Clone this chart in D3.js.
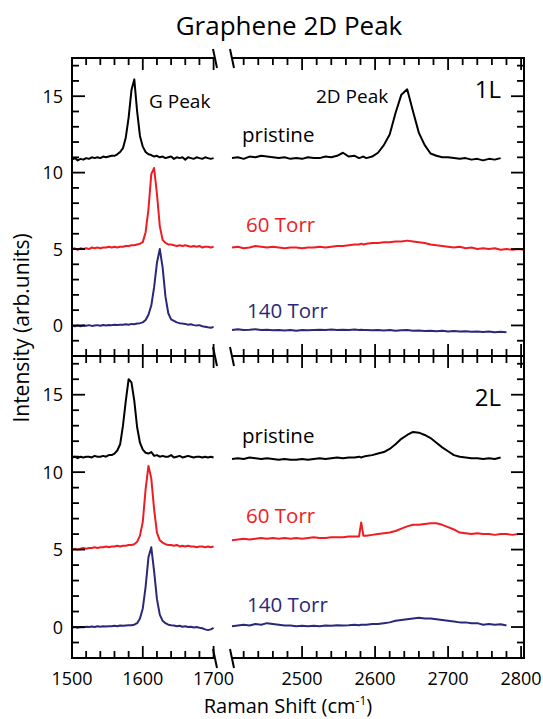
<!DOCTYPE html>
<html>
<head>
<meta charset="utf-8">
<script src="https://cdn.jsdelivr.net/npm/d3@7"></script>
<style>
  body { margin: 0; background: #fff; }
  svg text { font-family: "Open Sans", sans-serif; }
</style>
</head>
<body>
<script>
// Raman shift sample points (cm-1): G peak window and 2D peak window
var shiftG = [
  1500, 1504, 1508, 1512, 1516, 1520, 1524, 1528, 1532, 1536,
  1540, 1544, 1548, 1552, 1556, 1560, 1564, 1568, 1572, 1576,
  1580, 1584, 1588, 1592, 1596, 1600, 1604, 1608, 1612, 1616,
  1620, 1624, 1628, 1632, 1636, 1640, 1644, 1648, 1652, 1656,
  1660, 1664, 1668, 1672, 1676, 1680, 1684, 1688, 1692, 1696,
  1700]
var shift2D = [
  2404, 2412, 2420, 2428, 2436, 2444, 2452, 2460, 2468, 2476,
  2484, 2492, 2500, 2508, 2516, 2524, 2532, 2540, 2548, 2556,
  2564, 2572, 2578, 2581, 2584, 2588, 2596, 2604, 2612, 2620,
  2628, 2636, 2644, 2652, 2660, 2668, 2676, 2684, 2692, 2700,
  2708, 2716, 2724, 2732, 2740, 2748, 2756, 2764, 2772, 2780,
  2788, 2796, 2804]

// intensities (arb. units, offset as plotted) - single layer
var gPristine1L = [
  10.85, 10.95, 10.8, 10.9, 10.85, 10.95, 10.9, 11.0, 10.95, 11.0,
  10.95, 11.05, 11.0, 11.05, 11.1, 11.1, 11.2, 11.35, 11.6, 12.3,
  13.6, 15.4, 16.1, 14.0, 12.4, 11.7, 11.35, 11.2, 11.15, 11.05,
  11.1, 11.0, 11.05, 10.95, 11.0, 11.05, 10.9, 11.0, 10.95, 11.0,
  10.85, 11.0, 10.95, 10.9, 11.0, 10.95, 10.9, 11.0, 10.95, 10.9,
  10.95]
var g60Torr1L = [
  5.0, 5.05, 4.95, 5.05, 5.0, 5.05, 5.0, 5.1, 5.05, 5.1,
  5.05, 5.1, 5.1, 5.15, 5.1, 5.15, 5.1, 5.15, 5.15, 5.2,
  5.2, 5.25, 5.25, 5.3, 5.35, 5.45, 6.1, 7.6, 9.9, 10.3,
  8.6, 6.5, 5.6, 5.4, 5.3, 5.3, 5.25, 5.2, 5.25, 5.2,
  5.25, 5.2, 5.15, 5.2, 5.15, 5.2, 5.1, 5.15, 5.15, 5.1,
  5.15]
var g140Torr1L = [
  0.0, -0.05, 0.0, -0.05, 0.0, -0.02, 0.02, -0.03, 0.0, 0.02,
  -0.02, 0.03, 0.0, 0.03, 0.02, 0.05, 0.03, 0.05, 0.05, 0.08,
  0.05, 0.1, 0.08, 0.12, 0.15, 0.2, 0.35, 0.7, 1.3, 2.5,
  4.1, 5.0, 3.8, 1.9, 0.8, 0.4, 0.3, 0.2, 0.15, 0.12,
  0.1, 0.05, 0.08, 0.02, 0.0, 0.02, -0.05, -0.08, -0.12, -0.15,
  -0.1]
var dPristine1L = [
  10.95, 11.0, 10.9, 11.05, 11.0, 11.1, 11.05, 11.0, 10.95, 11.0,
  10.9, 10.95, 10.9, 11.0, 10.95, 10.95, 11.05, 11.0, 11.1, 11.3,
  11.05, 11.1, 10.95, 11.0, 11.05, 10.95, 11.05, 11.3, 11.8, 12.5,
  13.9, 15.1, 15.45, 14.0, 12.6, 11.8, 11.25, 11.1, 11.0, 11.0,
  10.95, 10.9, 10.95, 10.85, 10.9, 10.8, 10.9, 10.85, 10.95, null,
  null, null, null]
var d60Torr1L = [
  5.1, 5.15, 5.05, 5.1, 5.2, 5.15, 5.1, 5.15, 5.1, 5.05,
  5.1, 5.1, 5.05, 5.1, 5.1, 5.15, 5.1, 5.15, 5.2, 5.2,
  5.25, 5.3, 5.3, 5.35, 5.3, 5.35, 5.4, 5.4, 5.45, 5.45,
  5.5, 5.5, 5.55, 5.5, 5.45, 5.4, 5.3, 5.25, 5.2, 5.15,
  5.1, 5.15, 5.05, 5.1, 5.0, 5.05, 5.0, 5.05, 4.95, 5.0,
  4.95, 5.0, 4.95]
var d140Torr1L = [
  -0.3, -0.25, -0.3, -0.28, -0.25, -0.3, -0.28, -0.32, -0.3, -0.33,
  -0.3, -0.35, -0.3, -0.32, -0.3, -0.28, -0.3, -0.27, -0.3, -0.28,
  -0.3, -0.27, -0.3, -0.28, -0.3, -0.3, -0.32, -0.3, -0.33, -0.3,
  -0.35, -0.32, -0.3, -0.35, -0.33, -0.36, -0.35, -0.38, -0.35, -0.4,
  -0.37, -0.4, -0.38, -0.42, -0.4, -0.43, -0.4, -0.45, -0.42, -0.45,
  null, null, null]

// bilayer
var gPristine2L = [
  10.95, 11.0, 10.9, 11.0, 10.95, 11.0, 11.0, 10.95, 11.05, 11.0,
  11.0, 11.05, 11.0, 11.1, 11.1, 11.2, 11.4, 11.8, 13.0, 14.6,
  16.0, 15.8, 14.6, 12.9, 11.9, 11.45, 11.25, 11.2, 11.3, 11.05,
  11.1, 11.0, 11.05, 11.0, 11.0, 11.1, 10.95, 11.0, 11.05, 10.95,
  11.0, 11.05, 11.0, 10.95, 11.0, 11.0, 10.95, 11.0, 10.95, 11.0,
  10.95]
var g60Torr2L = [
  5.0, 5.05, 5.0, 5.05, 5.1, 5.05, 5.1, 5.1, 5.15, 5.1,
  5.15, 5.15, 5.2, 5.15, 5.2, 5.2, 5.25, 5.2, 5.25, 5.25,
  5.3, 5.3, 5.35, 5.5, 5.9, 6.8, 8.9, 10.4, 9.6, 7.6,
  6.1, 5.6, 5.45, 5.35, 5.3, 5.3, 5.25, 5.3, 5.2, 5.25,
  5.2, 5.25, 5.2, 5.2, 5.15, 5.2, 5.2, 5.15, 5.2, 5.15,
  5.2]
var g140Torr2L = [
  -0.05, 0.0, -0.05, 0.0, -0.02, 0.02, 0.0, 0.03, 0.0, 0.05,
  0.02, 0.05, 0.03, 0.05, 0.05, 0.08, 0.05, 0.1, 0.08, 0.1,
  0.12, 0.12, 0.15, 0.25, 0.55, 1.2, 2.6, 4.5, 5.15, 3.6,
  1.8, 0.8, 0.4, 0.25, 0.15, 0.12, 0.1, 0.05, 0.08, 0.02,
  0.05, 0.0, 0.02, -0.03, 0.0, -0.05, -0.08, -0.15, -0.2, -0.15,
  -0.05]
var dPristine2L = [
  10.85, 10.9, 10.85, 10.95, 10.9, 10.85, 10.9, 10.85, 10.8, 10.85,
  10.8, 10.8, 10.85, 10.8, 10.85, 10.9, 10.85, 10.9, 10.95, 10.9,
  10.95, 10.95, 11.0, 10.95, 11.0, 11.05, 11.1, 11.2, 11.3, 11.5,
  11.8, 12.15, 12.4, 12.6, 12.55, 12.4, 12.2, 11.9, 11.6, 11.35,
  11.1, 11.0, 10.95, 10.9, 10.9, 10.85, 10.9, 10.85, 10.95, null,
  null, null, null]
var d60Torr2L = [
  5.6, 5.65, 5.7, 5.65, 5.7, 5.75, 5.7, 5.75, 5.7, 5.75,
  5.7, 5.75, 5.7, 5.75, 5.8, 5.75, 5.75, 5.8, 5.8, 5.8,
  5.85, 5.85, 5.85, 6.75, 5.9, 5.9, 5.95, 6.0, 6.05, 6.1,
  6.2, 6.35, 6.5, 6.6, 6.6, 6.65, 6.7, 6.7, 6.6, 6.45,
  6.3, 6.1, 6.05, 6.0, 6.05, 6.0, 6.0, 5.95, 6.0, 6.0,
  5.95, 6.0, 6.0]
var d140Torr2L = [
  0.05, 0.1, 0.15, 0.1, 0.2, 0.15, 0.25, 0.2, 0.15, 0.1,
  0.1, 0.05, 0.08, 0.05, 0.08, 0.05, 0.1, 0.08, 0.12, 0.1,
  0.12, 0.15, 0.12, 0.15, 0.15, 0.15, 0.2, 0.2, 0.25, 0.3,
  0.4, 0.45, 0.5, 0.55, 0.6, 0.55, 0.55, 0.5, 0.45, 0.4,
  0.35, 0.3, 0.3, 0.25, 0.25, 0.15, 0.2, 0.15, 0.18, 0.1,
  null, null, null]

var sampleLabels = ['pristine', '60 Torr', '140 Torr']
var sampleColors = ['#000000', '#ee1d24', '#2b2878']
var layerLabels = ['1L', '2L']
var xTicksG = [1500, 1600, 1700]
var xTicks2D = [2500, 2600, 2700, 2800]
var yTicks = [0, 5, 10, 15]

var W = 543, H = 719
var frameL = 72, frameR = 524, cutL = 215, cutR = 232
var panels = [{ top: 58, bottom: 356 }, { top: 356, bottom: 658 }]

var spectra = [
  [[gPristine1L, dPristine1L], [g60Torr1L, d60Torr1L], [g140Torr1L, d140Torr1L]],
  [[gPristine2L, dPristine2L], [g60Torr2L, d60Torr2L], [g140Torr2L, d140Torr2L]]
]
// text baselines for the sample labels, per panel
var labelBase = [[142, 232, 318], [443, 523, 612]]
var labelX = [242, 246, 247]

var xG = d3.scaleLinear().domain([1500, 1702]).range([frameL, cutL])
var x2D = d3.scaleLinear().domain([2404, 2804]).range([cutR, frameR])

var svg = d3.select('body').append('svg')
  .attr('width', W)
  .attr('height', H)

function makeLine(x, y) {
  return d3.line()
    .defined(function(d) { return d[1] != null })
    .x(function(d) { return x(d[0]) })
    .y(function(d) { return y(d[1]) })
}

function seg(x1, y1, x2, y2, w) {
  svg.append('line')
    .attr('x1', x1).attr('y1', y1)
    .attr('x2', x2).attr('y2', y2)
    .attr('stroke', '#000')
    .attr('stroke-width', w || 1.8)
}

// horizontal edge ticks, dir = 1 points down, -1 points up
function xTicksAt(yPos, dir) {
  d3.range(1520, 1701, 20).forEach(function(v) {
    var len = xTicksG.indexOf(v) >= 0 ? 12 : 7
    seg(xG(v), yPos, xG(v), yPos + dir * len)
  })
  d3.range(2420, 2801, 20).forEach(function(v) {
    var len = xTicks2D.indexOf(v) >= 0 ? 12 : 7
    seg(x2D(v), yPos, x2D(v), yPos + dir * len)
  })
}

panels.forEach(function(p, i) {
  var y = d3.scaleLinear().domain([-2, 17.5]).range([p.bottom, p.top])

  spectra[i].forEach(function(s, k) {
    svg.append('path')
      .datum(d3.zip(shiftG, s[0]))
      .attr('d', makeLine(xG, y))
      .attr('fill', 'none')
      .attr('stroke', sampleColors[k])
      .attr('stroke-width', 2)
      .attr('stroke-linejoin', 'round')
    svg.append('path')
      .datum(d3.zip(shift2D, s[1]))
      .attr('d', makeLine(x2D, y))
      .attr('fill', 'none')
      .attr('stroke', sampleColors[k])
      .attr('stroke-width', 2)
      .attr('stroke-linejoin', 'round')
    svg.append('text')
      .attr('x', labelX[k])
      .attr('y', labelBase[i][k])
      .attr('fill', sampleColors[k])
      .style('font-size', '20.5px')
      .text(sampleLabels[k])
  })

  // y ticks on both sides
  d3.range(-1, 18).forEach(function(v) {
    var len = yTicks.indexOf(v) >= 0 ? 13 : 7
    seg(frameL, y(v), frameL + len, y(v))
    seg(frameR, y(v), frameR - len, y(v))
  })
  yTicks.forEach(function(v) {
    svg.append('text')
      .attr('x', 63)
      .attr('y', y(v) + 6.5)
      .attr('text-anchor', 'end')
      .style('font-size', '18px')
      .text(v)
  })

  xTicksAt(p.top, 1)
  xTicksAt(p.bottom, -1)

  svg.append('text')
    .attr('x', 501)
    .attr('y', i === 0 ? 98 : 406)
    .attr('text-anchor', 'end')
    .style('font-size', '24px')
    .text(layerLabels[i])
})

// frame with the axis break
seg(frameL, 57, frameL, 659, 2)
seg(frameR, 57, frameR, 659, 2)
;[58, 356, 658].forEach(function(yPos) {
  seg(frameL - 1, yPos, cutL, yPos, 2)
  seg(cutR, yPos, frameR + 1, yPos, 2)
  seg(cutL - 2, yPos - 9, cutL + 2, yPos + 10, 2)
  seg(cutR - 2, yPos - 9, cutR + 2, yPos + 10, 2)
})

// x tick labels
xTicksG.forEach(function(v) {
  svg.append('text').attr('x', xG(v)).attr('y', 685)
    .attr('text-anchor', 'middle').style('font-size', '18px').text(v)
})
xTicks2D.forEach(function(v) {
  svg.append('text').attr('x', x2D(v)).attr('y', 685)
    .attr('text-anchor', 'middle').style('font-size', '18px').text(v)
})

// annotations and titles
svg.append('text').attr('x', 149).attr('y', 108)
  .style('font-size', '19px').text('G Peak')
svg.append('text').attr('x', 316).attr('y', 103)
  .style('font-size', '19px').text('2D Peak')

svg.append('text').attr('x', 289).attr('y', 35)
  .attr('text-anchor', 'middle').style('font-size', '26px')
  .text('Graphene 2D Peak')

svg.append('text')
  .attr('transform', 'translate(29,328) rotate(-90)')
  .attr('text-anchor', 'middle')
  .style('font-size', '21px')
  .text('Intensity (arb.units)')

var xt = svg.append('text').attr('x', 288).attr('y', 713)
  .attr('text-anchor', 'middle').style('font-size', '20px')
xt.append('tspan').text('Raman Shift (cm')
xt.append('tspan').attr('dy', -8).style('font-size', '12px').text('-1')
xt.append('tspan').attr('dy', 8).text(')')
</script>
</body>
</html>
